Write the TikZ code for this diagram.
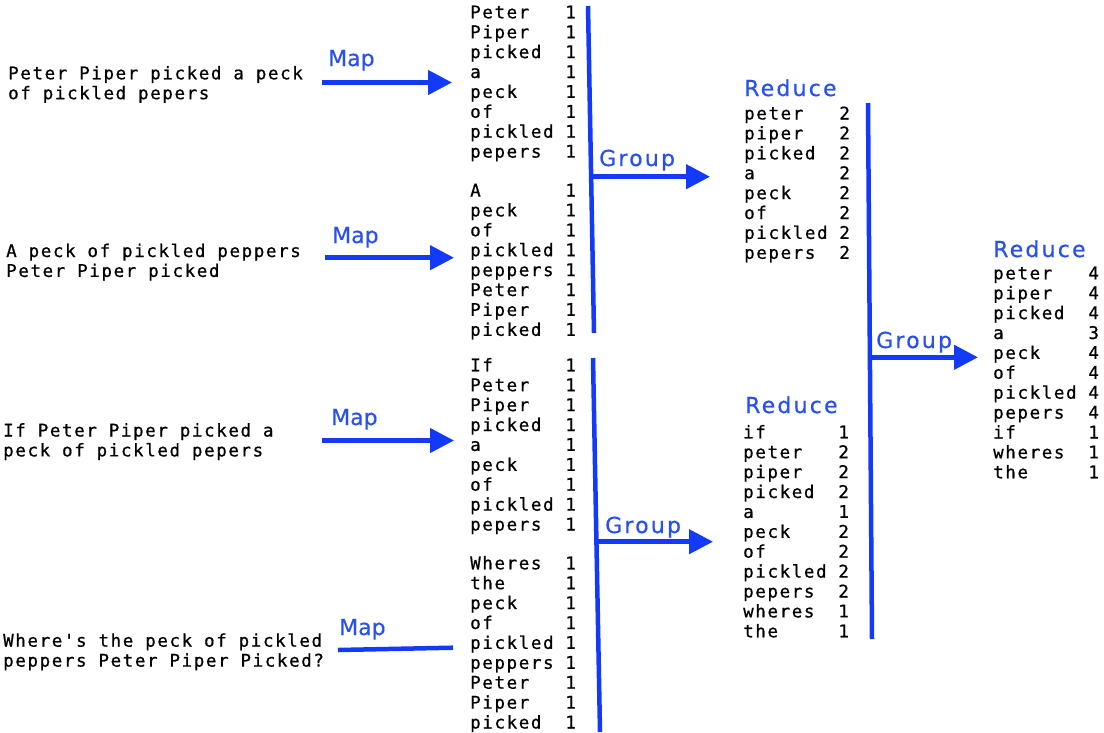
\documentclass[tikz,border=0pt]{standalone}
\usepackage{fontspec}
\usepackage{tikz}
\usetikzlibrary{arrows.meta}
\newfontfamily\wordfont[LetterSpace=9.2,FakeBold=0.7]{DejaVu Sans Mono}
\newfontfamily\mapfont[FakeBold=0.5]{DejaVu Sans}
\newfontfamily\stepfont[LetterSpace=10,FakeBold=0.5]{DejaVu Sans}
\definecolor{flowblue}{RGB}{18,58,248}
\definecolor{labelblue}{RGB}{40,80,240}
\newcommand{\wordsize}{\wordfont\fontsize{17.5}{19.9}\selectfont\spaceskip 11.9pt\relax}
\newcommand{\wordlist}[1]{\begin{tabular}[t]{@{}p{95.2pt}@{}l@{}}#1\end{tabular}}
\newcommand{\sentence}[1]{\begin{tabular}[t]{@{}l@{}}#1\end{tabular}}
\tikzstyle{words} = [inner sep=0pt, anchor=base west, font=\wordsize]
\tikzstyle{maplabel} = [inner sep=0pt, anchor=base west, text=labelblue, font=\mapfont\fontsize{22}{26}\selectfont]
\tikzstyle{steplabel} = [inner sep=0pt, anchor=base west, text=labelblue, font=\stepfont\fontsize{22}{26}\selectfont]
\tikzstyle{arrow} = [line width=4.5pt, draw=flowblue, -{Triangle[length=24pt,width=24pt]}]
\tikzstyle{bar} = [line width=4.5pt, draw=flowblue]

\begin{document}
\begin{tikzpicture}[x=1pt,y=1pt]
\useasboundingbox (0,0) rectangle (1104,-732);

\node [words] (in1) at (8,-79.3) {\sentence{Peter Piper picked a peck\\of pickled pepers}};
\node [words] (in2) at (6,-257) {\sentence{A peck of pickled peppers\\Peter Piper picked}};
\node [words] (in3) at (3,-436.5) {\sentence{If Peter Piper picked a\\peck of pickled pepers}};
\node [words] (in4) at (3,-646.7) {\sentence{Where's the peck of pickled\\peppers Peter Piper Picked?}};

\node [words] (l1) at (470,-18.3) {\wordlist{Peter&1\\Piper&1\\picked&1\\a&1\\peck&1\\of&1\\pickled&1\\pepers&1}};
\node [words] (l2) at (470,-196.5) {\wordlist{A&1\\peck&1\\of&1\\pickled&1\\peppers&1\\Peter&1\\Piper&1\\picked&1}};
\node [words] (l3) at (470,-371.3) {\wordlist{If&1\\Peter&1\\Piper&1\\picked&1\\a&1\\peck&1\\of&1\\pickled&1\\pepers&1}};
\node [words] (l4) at (470,-569.3) {\wordlist{Wheres&1\\the&1\\peck&1\\of&1\\pickled&1\\peppers&1\\Peter&1\\Piper&1\\picked&1}};

\node [words] (r1) at (744,-119.5) {\wordlist{peter&2\\piper&2\\picked&2\\a&2\\peck&2\\of&2\\pickled&2\\pepers&2}};
\node [words] (r2) at (743,-438.3) {\wordlist{if&1\\peter&2\\piper&2\\picked&2\\a&1\\peck&2\\of&2\\pickled&2\\pepers&2\\wheres&1\\the&1}};
\node [words] (r3) at (993,-279.3) {\wordlist{peter&4\\piper&4\\picked&4\\a&3\\peck&4\\of&4\\pickled&4\\pepers&4\\if&1\\wheres&1\\the&1}};

\node [maplabel] (map1) at (328,-66) {Map};
\node [maplabel] (map2) at (332,-243) {Map};
\node [maplabel] (map3) at (331,-425) {Map};
\node [maplabel] (map4) at (339,-635) {Map};

\node [steplabel] (grp1) at (599,-166) {Group};
\node [steplabel] (grp2) at (605,-533) {Group};
\node [steplabel] (grp3) at (876,-348) {Group};

\node [steplabel] (red1) at (744,-96) {Reduce};
\node [steplabel] (red2) at (745,-413) {Reduce};
\node [steplabel] (red3) at (993,-257) {Reduce};

\coordinate (m1s) at (322,-82.5);
\coordinate (m1e) at (452,-82.5);
\coordinate (m2s) at (325,-257.7);
\coordinate (m2e) at (454,-257.7);
\coordinate (m3s) at (322,-440.5);
\coordinate (m3e) at (454,-440.5);
\coordinate (m4s) at (338,-650);
\coordinate (m4e) at (453,-647.7);

\coordinate (b1top) at (588,-6);
\coordinate (b1bot) at (594,-333);
\coordinate (b2top) at (593,-358);
\coordinate (b2bot) at (600,-732);
\coordinate (b3top) at (868,-103);
\coordinate (b3bot) at (872,-639);

\coordinate (g1s) at (593,-176.7);
\coordinate (g1e) at (710,-176.7);
\coordinate (g2s) at (595,-541.7);
\coordinate (g2e) at (713,-541.7);
\coordinate (g3s) at (869,-357.3);
\coordinate (g3e) at (978,-357.3);

\draw [arrow] (m1s) to (m1e);
\draw [arrow] (m2s) to (m2e);
\draw [arrow] (m3s) to (m3e);
\draw [bar] (m4s) to (m4e);

\draw [bar] (b1top) to (b1bot);
\draw [bar] (b2top) to (b2bot);
\draw [bar] (b3top) to (b3bot);

\draw [arrow] (g1s) to (g1e);
\draw [arrow] (g2s) to (g2e);
\draw [arrow] (g3s) to (g3e);

\end{tikzpicture}
\end{document}
